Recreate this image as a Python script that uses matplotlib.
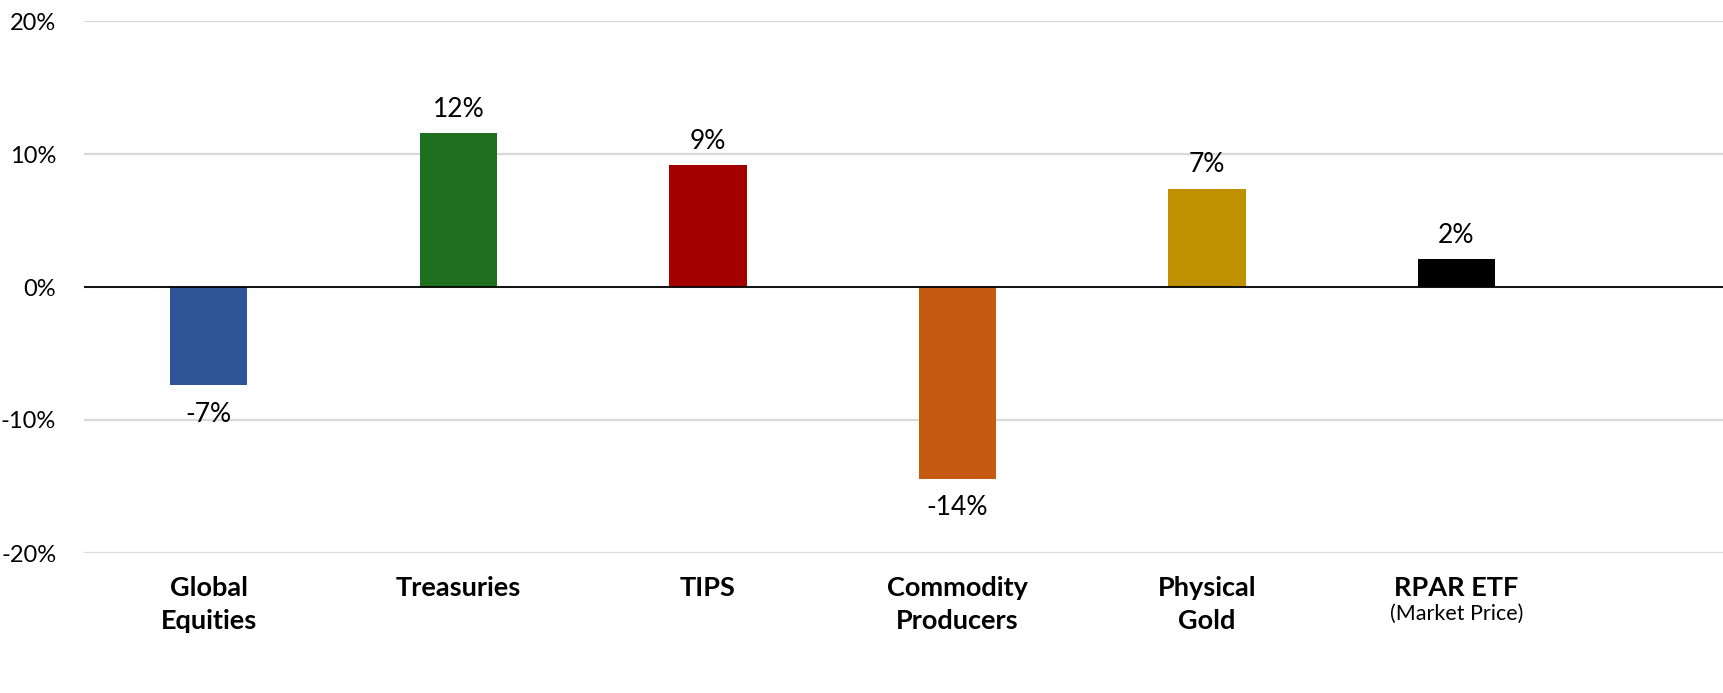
import matplotlib.pyplot as plt
from matplotlib.transforms import blended_transform_factory

# categories and returns (%)
categories = [('Global', 'Equities'), ('Treasuries', ''), ('TIPS', ''),
              ('Commodity', 'Producers'), ('Physical', 'Gold'), ('RPAR ETF', '')]
returns = [-7.4, 11.6, 9.2, -14.4, 7.4, 2.1]
value_labels = ['-7%', '12%', '9%', '-14%', '7%', '2%']
colors = ['#2F5597', '#1E701E', '#A50000', '#C55A11', '#BF9000', '#000000']
y_ticks = [-20, -10, 0, 10, 20]

plt.rcParams['font.family'] = ['Lato', 'DejaVu Sans']

fig = plt.figure(figsize=(17.23, 6.93), dpi=100)
ax = fig.add_axes([84 / 1723, 140 / 693, 1 - 84 / 1723, 532 / 693])

x = list(range(len(returns)))
ax.bar(x, returns, width=0.31, color=colors, zorder=3)

# value labels
for xi, v, lab in zip(x, returns, value_labels):
    if v >= 0:
        ax.annotate(lab, (xi, v), xytext=(0, 8), textcoords='offset points',
                    ha='center', va='bottom', fontsize=19)
    else:
        ax.annotate(lab, (xi, v), xytext=(0, -12), textcoords='offset points',
                    ha='center', va='top', fontsize=19)

ax.set_xlim(-0.5, (1723 - 209) / 249.5)
ax.set_ylim(-20, 20)
ax.set_yticks(y_ticks)
ax.set_yticklabels([f'{t}%' for t in y_ticks], fontsize=17)
ax.tick_params(axis='y', length=0, pad=20)
ax.set_xticks([])
ax.grid(axis='y', color='#D9D9D9', linewidth=1.6, zorder=0)
ax.axhline(0, color='#000000', linewidth=1.3, zorder=4)
for s in ax.spines.values():
    s.set_visible(False)

# category labels below the plot
trans = blended_transform_factory(ax.transData, ax.transAxes)
for xi, (l1, l2) in zip(x, categories):
    ax.text(xi, -0.066, l1, transform=trans, ha='center', va='center',
            fontsize=19.5, fontweight='bold')
    if l2:
        ax.text(xi, -0.128, l2, transform=trans, ha='center', va='center',
                fontsize=19.5, fontweight='bold')
ax.text(x[-1], -0.115, '(Market Price)', transform=trans, ha='center',
        va='center', fontsize=15.5)

fig.savefig('out.png', dpi=100)
